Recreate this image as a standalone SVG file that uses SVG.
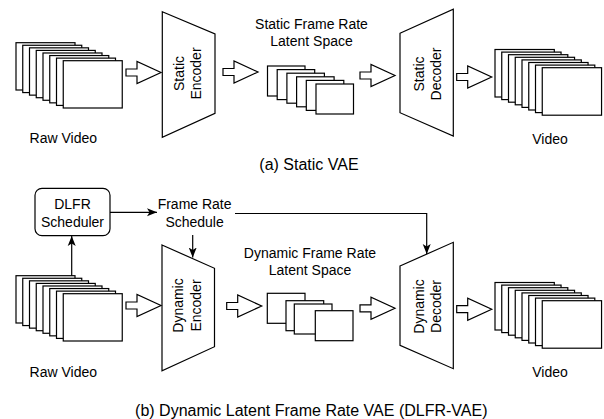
<svg xmlns="http://www.w3.org/2000/svg" width="604" height="419" viewBox="0 0 604 419">
<style>
.f{fill:#fff;stroke:#000;stroke-width:1.2}
.t{font-family:"Liberation Sans",Arial,sans-serif;font-size:14px;fill:#000;text-anchor:middle}
.c{font-family:"Liberation Sans",Arial,sans-serif;font-size:16px;fill:#000;text-anchor:middle}
.l{fill:none;stroke:#000;stroke-width:1.2}
</style>
<defs>
<marker id="ah" markerUnits="userSpaceOnUse" markerWidth="11" markerHeight="9" refX="10" refY="4.5" orient="auto">
<path d="M0,0.5 L10,4.5 L0,8.5 L2.5,4.5 Z" fill="#000"/>
</marker>
<polygon id="ha" points="0,-3.5 11,-3.5 11,-11 35,0 11,11 11,3.5 0,3.5"/>
</defs>
<rect width="604" height="419" fill="#fff"/>

<g id="raw-video-a">
<rect class="f" x="16" y="42.7" width="59" height="47.3"/>
<rect class="f" x="22.75" y="45.27" width="59" height="47.3"/>
<rect class="f" x="29.5" y="47.84" width="59" height="47.3"/>
<rect class="f" x="36.25" y="50.41" width="59" height="47.3"/>
<rect class="f" x="43" y="52.98" width="59" height="47.3"/>
<rect class="f" x="49.75" y="55.55" width="59" height="47.3"/>
<rect class="f" x="56.5" y="58.12" width="59" height="47.3"/>
<rect class="f" x="63.25" y="60.7" width="59" height="47.3"/>
<text class="t" x="63.3" y="143.4">Raw Video</text>
</g>

<g id="static-encoder">
<polygon class="f" points="162.3,11.7 215,34 215,113.3 162.3,137.3"/>
<g transform="translate(183.5,73.5) rotate(-90)"><text class="t" x="0" y="0">Static</text><text class="t" x="0" y="17.5">Encoder</text></g>
</g>

<g id="static-latent">
<text class="t" x="311.5" y="28.5">Static Frame Rate</text>
<text class="t" x="311.5" y="45.8">Latent Space</text>
<rect class="f" x="267.5" y="66" width="37.5" height="30"/>
<rect class="f" x="277.2" y="69.6" width="37.5" height="30"/>
<rect class="f" x="286.9" y="73.2" width="37.5" height="30"/>
<rect class="f" x="296.6" y="76.8" width="37.5" height="30"/>
<rect class="f" x="306.3" y="80.4" width="37.5" height="30"/>
<rect class="f" x="316" y="84" width="37.5" height="30"/>
</g>

<g id="static-decoder">
<polygon class="f" points="400,33.3 453.3,9.3 453.3,136 400,112.7"/>
<g transform="translate(423.5,74) rotate(-90)"><text class="t" x="0" y="0">Static</text><text class="t" x="0" y="17.5">Decoder</text></g>
</g>

<g id="video-a">
<rect class="f" x="495" y="49.5" width="59.3" height="47.5"/>
<rect class="f" x="501.75" y="52.1" width="59.3" height="47.5"/>
<rect class="f" x="508.5" y="54.7" width="59.3" height="47.5"/>
<rect class="f" x="515.25" y="57.3" width="59.3" height="47.5"/>
<rect class="f" x="522" y="59.9" width="59.3" height="47.5"/>
<rect class="f" x="528.75" y="62.5" width="59.3" height="47.5"/>
<rect class="f" x="535.5" y="65.1" width="59.3" height="47.5"/>
<rect class="f" x="542.25" y="67.7" width="59.3" height="47.5"/>
<text class="t" x="550" y="144">Video</text>
</g>

<text class="c" x="309" y="170">(a) Static VAE</text>

<g id="dlfr-scheduler">
<rect class="f" x="35" y="188.3" width="75" height="47.4" rx="7"/>
<text class="t" x="72.5" y="208.5">DLFR</text>
<text class="t" x="72.5" y="226.5">Scheduler</text>
</g>

<g id="frame-rate-schedule">
<text class="t" x="194.6" y="208.5">Frame Rate</text>
<text class="t" x="194.6" y="226.5">Schedule</text>
</g>

<g id="raw-video-b">
<rect class="f" x="16" y="275.7" width="59" height="47.3"/>
<rect class="f" x="22.75" y="278.27" width="59" height="47.3"/>
<rect class="f" x="29.5" y="280.84" width="59" height="47.3"/>
<rect class="f" x="36.25" y="283.41" width="59" height="47.3"/>
<rect class="f" x="43" y="285.98" width="59" height="47.3"/>
<rect class="f" x="49.75" y="288.55" width="59" height="47.3"/>
<rect class="f" x="56.5" y="291.12" width="59" height="47.3"/>
<rect class="f" x="63.25" y="293.7" width="59" height="47.3"/>
<text class="t" x="63.3" y="376.5">Raw Video</text>
</g>

<g id="dynamic-encoder">
<polygon class="f" points="162,245 214.5,268.3 214.5,346.7 162,370.7"/>
<g transform="translate(183,305.5) rotate(-90)"><text class="t" x="0" y="0">Dynamic</text><text class="t" x="0" y="17.5">Encoder</text></g>
</g>

<g id="dynamic-latent">
<text class="t" x="310" y="258.3">Dynamic Frame Rate</text>
<text class="t" x="310" y="274.8">Latent Space</text>
<rect class="f" x="267.3" y="293.3" width="37.7" height="30"/>
<rect class="f" x="286" y="300.7" width="37.7" height="30"/>
<rect class="f" x="294.3" y="304" width="37.7" height="30"/>
<rect class="f" x="315.3" y="310.7" width="37.7" height="30"/>
</g>

<g id="dynamic-decoder">
<polygon class="f" points="400,266 453.3,242.3 453.3,368.7 400,345.3"/>
<g transform="translate(423.5,306.5) rotate(-90)"><text class="t" x="0" y="0">Dynamic</text><text class="t" x="0" y="17.5">Decoder</text></g>
</g>

<g id="video-b">
<rect class="f" x="495" y="282.5" width="59.3" height="47.5"/>
<rect class="f" x="501.75" y="285.1" width="59.3" height="47.5"/>
<rect class="f" x="508.5" y="287.7" width="59.3" height="47.5"/>
<rect class="f" x="515.25" y="290.3" width="59.3" height="47.5"/>
<rect class="f" x="522" y="292.9" width="59.3" height="47.5"/>
<rect class="f" x="528.75" y="295.5" width="59.3" height="47.5"/>
<rect class="f" x="535.5" y="298.1" width="59.3" height="47.5"/>
<rect class="f" x="542.25" y="300.7" width="59.3" height="47.5"/>
<text class="t" x="550" y="377">Video</text>
</g>

<text class="c" x="311.3" y="415.5">(b) Dynamic Latent Frame Rate VAE (DLFR-VAE)</text>

<g id="connectors">
<use href="#ha" class="f" x="126" y="72.5"/>
<use href="#ha" class="f" x="223" y="72"/>
<use href="#ha" class="f" x="360" y="75.5"/>
<use href="#ha" class="f" x="456.7" y="77"/>
<use href="#ha" class="f" x="126" y="305.5"/>
<use href="#ha" class="f" x="226.7" y="306"/>
<use href="#ha" class="f" x="360" y="308.3"/>
<use href="#ha" class="f" x="456.7" y="309.2"/>
<path class="l" d="M110,212.3 H157" marker-end="url(#ah)"/>
<path class="l" d="M71.7,275.7 V236" marker-end="url(#ah)"/>
<path class="l" d="M192.7,235 V257.5" marker-end="url(#ah)"/>
<path class="l" d="M235,213.5 H426.7 V254" marker-end="url(#ah)"/>
</g>
</svg>
